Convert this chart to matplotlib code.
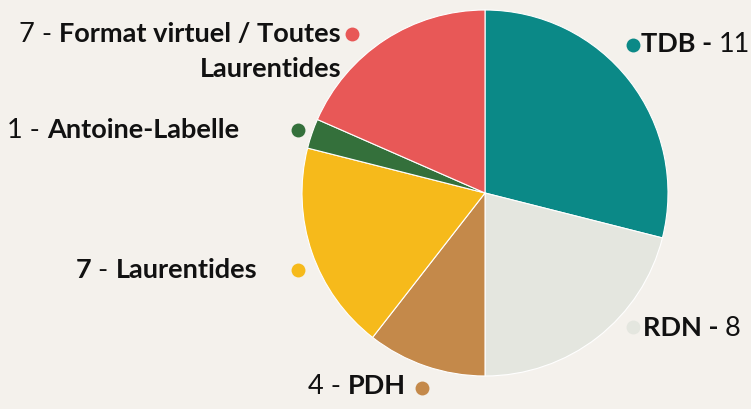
import matplotlib
matplotlib.use("Agg")
import matplotlib.pyplot as plt
from matplotlib import transforms

plt.rcParams['font.family'] = ['Lato', 'DejaVu Sans']

# data, clockwise from the top
names = ["TDB", "RDN", "PDH", "Laurentides", "Antoine-Labelle", "Format virtuel / Toutes\nLaurentides"]
values = [11, 8, 4, 7, 1, 7]
colors = ["#0b8987", "#e4e6df", "#c4894a", "#f6ba1b", "#34703b", "#e85857"]

bg = "#f4f1ec"
W, H = 751, 409
fig = plt.figure(figsize=(W / 100, H / 100), dpi=100, facecolor=bg)

cx, cy, r = 485, 193, 183
ax = fig.add_axes([(cx - r) / W, (H - cy - r) / H, 2 * r / W, 2 * r / H])
ax.set_facecolor(bg)
ax.pie(values, colors=colors, startangle=90, counterclock=False, radius=1,
       wedgeprops=dict(edgecolor="white", linewidth=0.8))
ax.set_xlim(-1, 1)
ax.set_ylim(-1, 1)
ax.set_aspect("equal")
ax.axis("off")


def px(x, y):
    return (x - cx) / r, (cy - y) / r


fig.canvas.draw()
ren = fig.canvas.get_renderer()


def parts_text(x, y, parts, ha="left", size=19.5):
    # draw a line built of pieces with different weights
    widths = []
    for s, w in parts:
        t = fig.text(0, 0, s, fontsize=size, fontweight=w)
        widths.append(t.get_window_extent(ren).width)
        t.remove()
    total = sum(widths)
    x0 = -total if ha == "right" else 0
    dx, dy = px(x, y)
    for (s, w), wd in zip(parts, widths):
        tr = transforms.offset_copy(ax.transData, fig=fig, x=x0 * 72 / 100, y=0, units="points")
        ax.text(dx, dy, s, fontsize=size, fontweight=w, va="center", ha="left",
                transform=tr, clip_on=False, color="#111111")
        x0 += wd


def dot(x, y, c):
    dx, dy = px(x, y)
    ax.plot([dx], [dy], "o", ms=10, color=c, clip_on=False, mec="none")


dot(633, 45, colors[0])
parts_text(641, 44, [(names[0] + " - ", "bold"), (str(values[0]), "normal")])
dot(633, 327, colors[1])
parts_text(643, 328, [(names[1] + " - ", "bold"), (str(values[1]), "normal")])
dot(422, 388, colors[2])
parts_text(406, 386, [(str(values[2]) + " - ", "normal"), (names[2], "bold")], ha="right")
dot(298, 270, colors[3])
parts_text(257, 270, [(str(values[3]), "bold"), (" - ", "normal"), (names[3], "bold")], ha="right")
dot(298, 130, colors[4])
parts_text(239, 130, [(str(values[4]) + " - ", "normal"), (names[4], "bold")], ha="right")
dot(352, 34, colors[5])
line1, line2 = names[5].split("\n")
parts_text(341, 34, [(str(values[5]) + " - ", "normal"), (line1, "bold")], ha="right")
parts_text(341, 69, [(line2, "bold")], ha="right")

fig.savefig("out.png", dpi=100, facecolor=bg)
